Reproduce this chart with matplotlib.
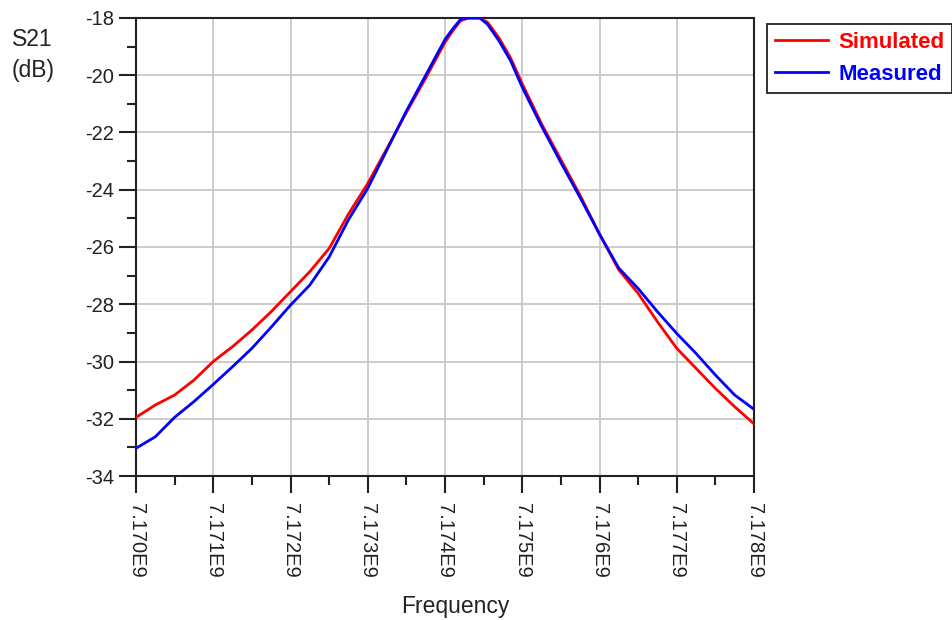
import numpy as np
import matplotlib
matplotlib.use('Agg')
import matplotlib.pyplot as plt
from matplotlib.ticker import MultipleLocator

plt.rcParams['font.family'] = ['Liberation Sans', 'DejaVu Sans']
plt.rcParams['axes.unicode_minus'] = False

# frequency points (GHz)
freq_ghz = [7.17000, 7.17025, 7.17050, 7.17075, 7.17100, 7.17125, 7.17150, 7.17175,
            7.17200, 7.17225, 7.17250, 7.17275, 7.17300, 7.17325, 7.17350, 7.17375,
            7.17400, 7.17410, 7.17420, 7.17430, 7.17445, 7.17455, 7.17470, 7.17485,
            7.17500, 7.17525, 7.17550, 7.17575, 7.17600, 7.17625, 7.17650, 7.17675,
            7.17700, 7.17725, 7.17750, 7.17775, 7.17800]

simulated = [-31.95, -31.52, -31.17, -30.65, -30.00, -29.48, -28.90, -28.26,
             -27.56, -26.86, -26.05, -24.85, -23.78, -22.55, -21.30, -20.10,
             -18.85, -18.45, -18.10, -18.00, -18.00, -18.15, -18.70, -19.40,
             -20.30, -21.70, -22.95, -24.20, -25.55, -26.80, -27.62, -28.61,
             -29.54, -30.24, -30.94, -31.58, -32.18]

measured = [-33.03, -32.63, -31.95, -31.40, -30.80, -30.18, -29.54, -28.80,
            -28.03, -27.33, -26.35, -25.05, -23.95, -22.60, -21.25, -20.00,
            -18.75, -18.38, -18.05, -18.00, -18.00, -18.22, -18.80, -19.50,
            -20.42, -21.78, -23.05, -24.28, -25.55, -26.74, -27.45, -28.26,
            -29.02, -29.72, -30.47, -31.17, -31.67]

xticks_ghz = [7.170, 7.171, 7.172, 7.173, 7.174, 7.175, 7.176, 7.177, 7.178]
xtick_labels = ['7.170E9', '7.171E9', '7.172E9', '7.173E9', '7.174E9',
                '7.175E9', '7.176E9', '7.177E9', '7.178E9']
yticks = [-34, -32, -30, -28, -26, -24, -22, -20, -18]

f = np.array(freq_ghz) * 1e9

fig = plt.figure(figsize=(9.53, 6.2), dpi=100)
ax = fig.add_axes([136 / 953, 1 - 476 / 620, (754 - 136) / 953, (476 - 18) / 620])

ax.plot(f, simulated, color='#ff0000', lw=2.0, label='Simulated', zorder=3)
ax.plot(f, measured, color='#0000ff', lw=2.0, label='Measured', zorder=4)

ax.set_xlim(7.170e9, 7.178e9)
ax.set_ylim(-34, -18)
ax.set_xticks([v * 1e9 for v in xticks_ghz])
ax.set_xticklabels(xtick_labels, rotation=270, va='top', ha='center')
ax.set_yticks(yticks)
ax.set_yticklabels([str(v) for v in yticks])
ax.xaxis.set_minor_locator(MultipleLocator(0.0005e9))
ax.yaxis.set_minor_locator(MultipleLocator(1))

ax.grid(True, which='major', color='#c8c8c8', lw=1.3)
ax.set_axisbelow(True)
ax.tick_params(which='major', direction='out', length=12.5, width=1.5,
               labelsize=14.5, colors='#222222', pad=3)
ax.tick_params(axis='x', which='major', pad=7)
ax.tick_params(which='minor', direction='out', length=6.5, width=1.5, color='#222222')
for s in ax.spines.values():
    s.set_linewidth(1.5)
    s.set_color('#222222')

fig.text(12 / 953, 1 - 39 / 620, 'S21', fontsize=16.5, color='#222222', va='center')
fig.text(12 / 953, 1 - 70 / 620, '(dB)', fontsize=16.5, color='#222222', va='center')
fig.text(455 / 953, 1 - 606 / 620, 'Frequency', fontsize=16.5, color='#222222',
         ha='center', va='center')

leg = ax.legend(loc='upper left', bbox_to_anchor=(767 / 953, 1 - 24 / 620),
                bbox_transform=fig.transFigure, fancybox=False, framealpha=1,
                edgecolor='#222222', handlelength=2.4, handletextpad=0.45,
                borderpad=0.35, labelspacing=0.5, borderaxespad=0,
                prop={'size': 16, 'weight': 'bold'})
leg.get_frame().set_linewidth(1.3)
for txt, col in zip(leg.get_texts(), ['#ff0000', '#0000ff']):
    txt.set_color(col)

fig.savefig('out.png', dpi=100)
